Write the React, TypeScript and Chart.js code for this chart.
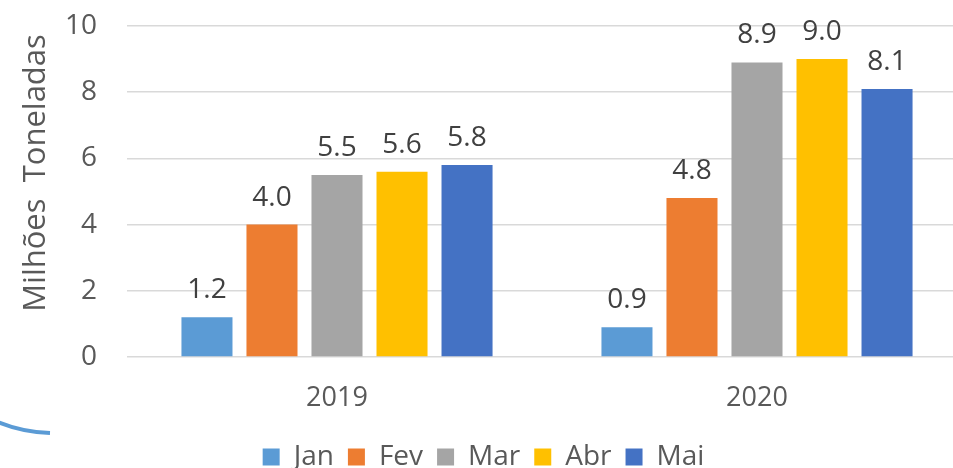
import React, { useEffect, useRef } from "react";
import { Chart, registerables } from "chart.js";

Chart.register(...registerables);

const categories = ["2019", "2020"];
const seriesNames = ["Jan", "Fev", "Mar", "Abr", "Mai"];
const janValues = [1.2, 0.9];
const fevValues = [4.0, 4.8];
const marValues = [5.5, 8.9];
const abrValues = [5.6, 9.0];
const maiValues = [5.8, 8.1];
const seriesColors = ["#5B9BD5", "#ED7D31", "#A5A5A5", "#FFC000", "#4472C4"];
const yTicks = [0, 2, 4, 6, 8, 10];
const yTitle = "Milhões  Toneladas";

const FONT = "'Open Sans', 'DejaVu Sans', sans-serif";

export default function App() {
  const ref = useRef<HTMLCanvasElement | null>(null);

  useEffect(() => {
    const canvas = ref.current;
    if (!canvas) return;
    const values = [janValues, fevValues, marValues, abrValues, maiValues];

    const labelPlugin = {
      id: "valueLabels",
      afterDatasetsDraw(chart: any) {
        const ctx = chart.ctx;
        ctx.save();
        ctx.font = `28px ${FONT}`;
        ctx.fillStyle = "#404040";
        ctx.textAlign = "center";
        ctx.textBaseline = "middle";
        chart.data.datasets.forEach((ds: any, i: number) => {
          const meta = chart.getDatasetMeta(i);
          meta.data.forEach((bar: any, j: number) => {
            ctx.fillText(Number(ds.data[j]).toFixed(1), bar.x, bar.y - 27);
          });
        });
        ctx.restore();
      },
    };

    const titlePlugin = {
      id: "yTitle",
      afterDraw(chart: any) {
        const ctx = chart.ctx;
        ctx.save();
        ctx.font = `31px ${FONT}`;
        ctx.fillStyle = "#595959";
        ctx.textAlign = "center";
        ctx.textBaseline = "middle";
        ctx.translate(36, 173);
        ctx.rotate(-Math.PI / 2);
        ctx.fillText(yTitle, 0, 0);
        ctx.restore();
        // decorative arc from the slide background
        ctx.save();
        ctx.strokeStyle = "#5B9BD5";
        ctx.lineWidth = 4;
        ctx.beginPath();
        ctx.moveTo(-2, 422);
        ctx.quadraticCurveTo(22, 432, 50, 433);
        ctx.stroke();
        ctx.restore();
      },
    };

    const chart = new Chart(canvas, {
      type: "bar",
      data: {
        labels: categories,
        datasets: seriesNames.map((name, i) => ({
          label: name,
          data: values[i],
          backgroundColor: seriesColors[i],
          borderWidth: 0,
          barPercentage: 0.785,
          categoryPercentage: 0.774,
        })),
      },
      options: {
        responsive: false,
        animation: false,
        devicePixelRatio: 1,
        layout: { padding: { top: 26, right: 8, bottom: 0, left: 0 } },
        plugins: {
          legend: {
            position: "bottom",
            align: "center",
            labels: {
              boxWidth: 17,
              boxHeight: 17,
              padding: 14,
              color: "#595959",
              font: { family: FONT, size: 28 },
            },
          },
          tooltip: { enabled: false },
        },
        scales: {
          x: {
            grid: { display: false },
            border: { display: false },
            ticks: {
              color: "#595959",
              font: { family: FONT, size: 27 },
              padding: 17,
            },
            afterFit(scale: any) {
              scale.height = 72;
            },
          },
          y: {
            min: 0,
            max: 10,
            afterBuildTicks(scale: any) {
              scale.ticks = yTicks.map((v) => ({ value: v }));
            },
            grid: { color: "#D9D9D9", lineWidth: 1.5, drawTicks: false },
            border: { display: false },
            ticks: {
              color: "#595959",
              font: { family: FONT, size: 28 },
              padding: 30,
            },
            afterFit(scale: any) {
              scale.width = 127;
              scale.paddingTop = 17;
              scale.paddingBottom = 17;
            },
          },
        },
      },
      plugins: [labelPlugin, titlePlugin],
    } as any);

    return () => chart.destroy();
  }, []);

  return (
    <div style={{ position: "fixed", left: 0, top: 0, width: 975, height: 481, background: "#fff" }}>
      <canvas ref={ref} width={975} height={481} />
    </div>
  );
}
